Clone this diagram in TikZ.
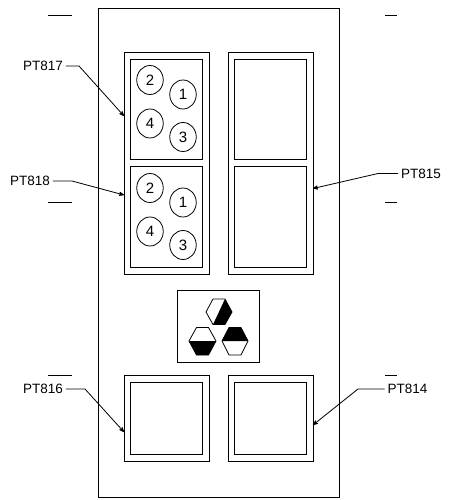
\documentclass[tikz,border=0pt]{standalone}
\usepackage{fontspec}
\setmainfont{Liberation Sans}
\usepackage{tikz}
\usetikzlibrary{
        arrows,
        positioning,
        shapes.geometric
    }
\tikzset{>=stealth',x=1pt,y=-1pt}
\tikzset{panel/.style={draw,rectangle,outer sep=0pt,line width=0.9pt,minimum width=#1}}
\tikzset{lamp/.style={draw,ellipse,minimum width=26.5pt,minimum height=29pt,inner sep=0pt,font=\fontsize{15}{15}\selectfont}}
\tikzset{tag/.style={inner sep=2.5pt,font=\fontsize{13.5}{14}\selectfont}}
\tikzset{tick/.style={line width=0.9pt}}
\tikzset{hexa/.style={line width=0.8pt,line join=round}}

\begin{document}
\begin{tikzpicture}[line width=0.8pt]
    \useasboundingbox (0,0) rectangle (455,500);
    \node[panel=241pt,minimum height=489pt] (frame) at (218.5,252.5) {};
    % upper panels
    \node[panel=85pt,minimum height=222pt] (left) at (166.5,163) {};
    \node[panel=85pt,minimum height=222pt] (right) at (270.5,163) {};
    \node[panel=72pt,minimum height=100pt] (a1) at (166.5,109) {};
    \node[panel=72pt,minimum height=101pt] (a2) at (166.5,216.5) {};
    \node[panel=72pt,minimum height=100pt] (b1) at (270.5,109) {};
    \node[panel=72pt,minimum height=101pt] (b2) at (270.5,216.5) {};
    % lamps
    \foreach \row/\dy in {u/0,l/108}{
        \node[lamp] (\row2) at (150,80+\dy) {2};
        \node[lamp] (\row1) at (183,94.5+\dy) {1};
        \node[lamp] (\row4) at (150,123.5+\dy) {4};
        \node[lamp] (\row3) at (183,137+\dy) {3};
    }
    % hexagon badge
    \node[panel=82pt,minimum height=72pt] (badge) at (218.5,326) {};
    \fill (225,299) -- (232,312) -- (225,324.5) -- (213,324.5) -- cycle;
    \draw[hexa] (206,312) -- (213,299) -- (225,299) -- (232,312) -- (225,324.5) -- (213,324.5) -- cycle;
    \fill (189,341) -- (216,341) -- (208.5,355) -- (196.5,355) -- cycle;
    \draw[hexa] (189,341) -- (196.5,327.5) -- (208.5,327.5) -- (216,341) -- (208.5,355) -- (196.5,355) -- cycle;
    \fill (222,341) -- (229,327.5) -- (241,327.5) -- (248,341) -- cycle;
    \draw[hexa] (222,341) -- (229,327.5) -- (241,327.5) -- (248,341) -- (241,355) -- (229,355) -- cycle;
    % lower panels
    \node[panel=85pt,minimum height=86pt] (c) at (166.5,418) {};
    \node[panel=85pt,minimum height=86pt] (d) at (270.5,418) {};
    \node[panel=72pt,minimum height=72pt] (c1) at (166.5,418) {};
    \node[panel=72pt,minimum height=72pt] (d1) at (270.5,418) {};
    % ticks
    \foreach \y in {15.5,202,375}{
        \draw[tick] (48,\y) -- (72,\y);
        \draw[tick] (385,\y) -- (397,\y);
    }
    % labels
    \node[tag] (pt817) at (43,66) {PT817};
    \node[tag] (pt818) at (30,181) {PT818};
    \node[tag] (pt815) at (421,173.5) {PT815};
    \node[tag] (pt816) at (43,389) {PT816};
    \node[tag] (pt814) at (407.5,389) {PT814};
    \coordinate (k817) at (79,66);
    \coordinate (k818) at (72,181);
    \coordinate (k815) at (378,173.5);
    \coordinate (k816) at (85,389);
    \coordinate (k814) at (358,389);
    \coordinate (e817) at (124,116);
    \coordinate (e818) at (124,195);
    \coordinate (e815) at (313,188.5);
    \coordinate (e816) at (124,432);
    \coordinate (e814) at (313,425);
    \draw[->] (pt817) -- (k817) -- (e817);
    \draw[->] (pt818) -- (k818) -- (e818);
    \draw[->] (pt815) -- (k815) -- (e815);
    \draw[->] (pt816) -- (k816) -- (e816);
    \draw[->] (pt814) -- (k814) -- (e814);
\end{tikzpicture}
\end{document}
